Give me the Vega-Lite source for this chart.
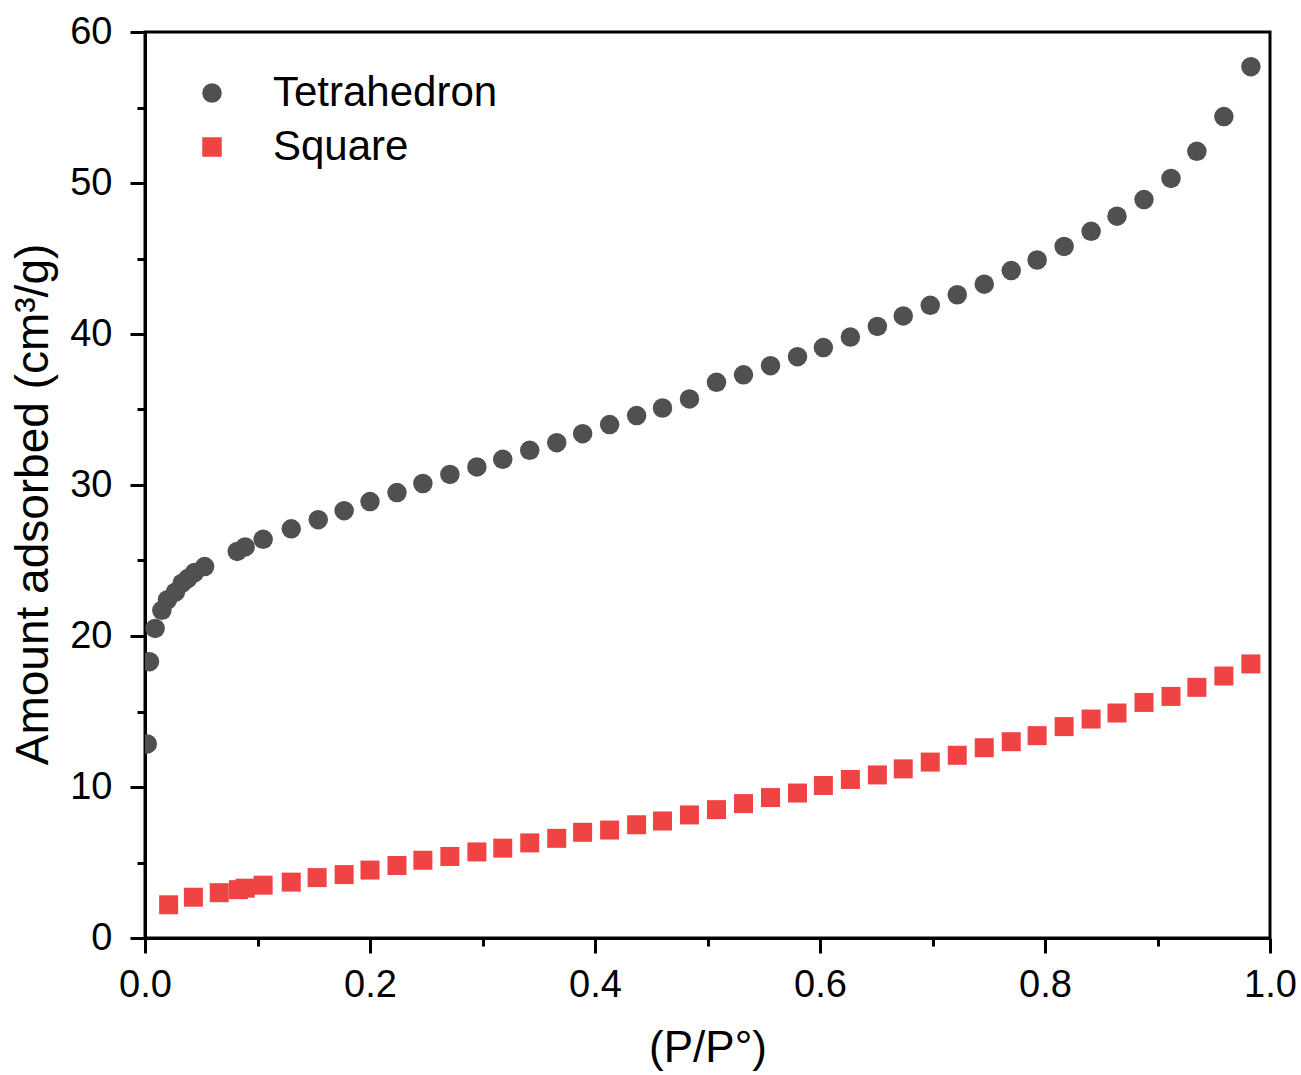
{
  "$schema": "https://vega.github.io/schema/vega-lite/v6.json",
  "autosize": {"type": "none"},
  "padding": {"left": 145, "top": 32, "right": 31, "bottom": 137},
  "width": 1125,
  "height": 906,
  "background": "white",
  "config": {
    "font": "Liberation Sans",
    "view": {"stroke": "black", "strokeWidth": 3},
    "axis": {
      "domainColor": "black",
      "domainWidth": 3,
      "tickColor": "black",
      "tickWidth": 3,
      "grid": false,
      "labelFont": "Liberation Sans",
      "labelFontSize": 38,
      "labelColor": "black",
      "titleFont": "Liberation Sans",
      "titleFontSize": 44,
      "titleFontWeight": "normal",
      "titleColor": "black"
    }
  },
  "datasets": {
    "isotherm": [
      {"pp0": 0.002, "amount": 12.85, "sample": "Tetrahedron"},
      {"pp0": 0.004, "amount": 18.3, "sample": "Tetrahedron"},
      {"pp0": 0.009, "amount": 20.5, "sample": "Tetrahedron"},
      {"pp0": 0.015, "amount": 21.7, "sample": "Tetrahedron"},
      {"pp0": 0.020, "amount": 22.4, "sample": "Tetrahedron"},
      {"pp0": 0.027, "amount": 22.9, "sample": "Tetrahedron"},
      {"pp0": 0.033, "amount": 23.5, "sample": "Tetrahedron"},
      {"pp0": 0.038, "amount": 23.8, "sample": "Tetrahedron"},
      {"pp0": 0.044, "amount": 24.2, "sample": "Tetrahedron"},
      {"pp0": 0.053, "amount": 24.6, "sample": "Tetrahedron"},
      {"pp0": 0.082, "amount": 25.6, "sample": "Tetrahedron"},
      {"pp0": 0.089, "amount": 25.9, "sample": "Tetrahedron"},
      {"pp0": 0.105, "amount": 26.4, "sample": "Tetrahedron"},
      {"pp0": 0.130, "amount": 27.1, "sample": "Tetrahedron"},
      {"pp0": 0.154, "amount": 27.7, "sample": "Tetrahedron"},
      {"pp0": 0.177, "amount": 28.3, "sample": "Tetrahedron"},
      {"pp0": 0.200, "amount": 28.9, "sample": "Tetrahedron"},
      {"pp0": 0.224, "amount": 29.5, "sample": "Tetrahedron"},
      {"pp0": 0.247, "amount": 30.1, "sample": "Tetrahedron"},
      {"pp0": 0.271, "amount": 30.7, "sample": "Tetrahedron"},
      {"pp0": 0.295, "amount": 31.2, "sample": "Tetrahedron"},
      {"pp0": 0.318, "amount": 31.7, "sample": "Tetrahedron"},
      {"pp0": 0.342, "amount": 32.3, "sample": "Tetrahedron"},
      {"pp0": 0.366, "amount": 32.8, "sample": "Tetrahedron"},
      {"pp0": 0.389, "amount": 33.4, "sample": "Tetrahedron"},
      {"pp0": 0.413, "amount": 34.0, "sample": "Tetrahedron"},
      {"pp0": 0.437, "amount": 34.6, "sample": "Tetrahedron"},
      {"pp0": 0.460, "amount": 35.1, "sample": "Tetrahedron"},
      {"pp0": 0.484, "amount": 35.7, "sample": "Tetrahedron"},
      {"pp0": 0.508, "amount": 36.8, "sample": "Tetrahedron"},
      {"pp0": 0.532, "amount": 37.3, "sample": "Tetrahedron"},
      {"pp0": 0.556, "amount": 37.9, "sample": "Tetrahedron"},
      {"pp0": 0.580, "amount": 38.5, "sample": "Tetrahedron"},
      {"pp0": 0.603, "amount": 39.1, "sample": "Tetrahedron"},
      {"pp0": 0.627, "amount": 39.8, "sample": "Tetrahedron"},
      {"pp0": 0.651, "amount": 40.5, "sample": "Tetrahedron"},
      {"pp0": 0.674, "amount": 41.2, "sample": "Tetrahedron"},
      {"pp0": 0.698, "amount": 41.9, "sample": "Tetrahedron"},
      {"pp0": 0.722, "amount": 42.6, "sample": "Tetrahedron"},
      {"pp0": 0.746, "amount": 43.3, "sample": "Tetrahedron"},
      {"pp0": 0.770, "amount": 44.2, "sample": "Tetrahedron"},
      {"pp0": 0.793, "amount": 44.9, "sample": "Tetrahedron"},
      {"pp0": 0.817, "amount": 45.8, "sample": "Tetrahedron"},
      {"pp0": 0.841, "amount": 46.8, "sample": "Tetrahedron"},
      {"pp0": 0.864, "amount": 47.8, "sample": "Tetrahedron"},
      {"pp0": 0.888, "amount": 48.9, "sample": "Tetrahedron"},
      {"pp0": 0.912, "amount": 50.3, "sample": "Tetrahedron"},
      {"pp0": 0.935, "amount": 52.1, "sample": "Tetrahedron"},
      {"pp0": 0.959, "amount": 54.4, "sample": "Tetrahedron"},
      {"pp0": 0.983, "amount": 57.7, "sample": "Tetrahedron"},
      {"pp0": 0.021, "amount": 2.2, "sample": "Square"},
      {"pp0": 0.043, "amount": 2.7, "sample": "Square"},
      {"pp0": 0.066, "amount": 3.0, "sample": "Square"},
      {"pp0": 0.083, "amount": 3.2, "sample": "Square"},
      {"pp0": 0.089, "amount": 3.3, "sample": "Square"},
      {"pp0": 0.105, "amount": 3.5, "sample": "Square"},
      {"pp0": 0.130, "amount": 3.7, "sample": "Square"},
      {"pp0": 0.153, "amount": 4.0, "sample": "Square"},
      {"pp0": 0.177, "amount": 4.2, "sample": "Square"},
      {"pp0": 0.200, "amount": 4.5, "sample": "Square"},
      {"pp0": 0.224, "amount": 4.8, "sample": "Square"},
      {"pp0": 0.247, "amount": 5.15, "sample": "Square"},
      {"pp0": 0.271, "amount": 5.4, "sample": "Square"},
      {"pp0": 0.295, "amount": 5.7, "sample": "Square"},
      {"pp0": 0.318, "amount": 5.95, "sample": "Square"},
      {"pp0": 0.342, "amount": 6.3, "sample": "Square"},
      {"pp0": 0.366, "amount": 6.6, "sample": "Square"},
      {"pp0": 0.389, "amount": 7.0, "sample": "Square"},
      {"pp0": 0.413, "amount": 7.15, "sample": "Square"},
      {"pp0": 0.437, "amount": 7.5, "sample": "Square"},
      {"pp0": 0.460, "amount": 7.75, "sample": "Square"},
      {"pp0": 0.484, "amount": 8.15, "sample": "Square"},
      {"pp0": 0.508, "amount": 8.5, "sample": "Square"},
      {"pp0": 0.532, "amount": 8.9, "sample": "Square"},
      {"pp0": 0.556, "amount": 9.3, "sample": "Square"},
      {"pp0": 0.580, "amount": 9.6, "sample": "Square"},
      {"pp0": 0.603, "amount": 10.1, "sample": "Square"},
      {"pp0": 0.627, "amount": 10.5, "sample": "Square"},
      {"pp0": 0.651, "amount": 10.8, "sample": "Square"},
      {"pp0": 0.674, "amount": 11.2, "sample": "Square"},
      {"pp0": 0.698, "amount": 11.65, "sample": "Square"},
      {"pp0": 0.722, "amount": 12.1, "sample": "Square"},
      {"pp0": 0.746, "amount": 12.6, "sample": "Square"},
      {"pp0": 0.770, "amount": 13.0, "sample": "Square"},
      {"pp0": 0.793, "amount": 13.4, "sample": "Square"},
      {"pp0": 0.817, "amount": 14.0, "sample": "Square"},
      {"pp0": 0.841, "amount": 14.5, "sample": "Square"},
      {"pp0": 0.864, "amount": 14.9, "sample": "Square"},
      {"pp0": 0.888, "amount": 15.6, "sample": "Square"},
      {"pp0": 0.912, "amount": 16.0, "sample": "Square"},
      {"pp0": 0.935, "amount": 16.6, "sample": "Square"},
      {"pp0": 0.959, "amount": 17.35, "sample": "Square"},
      {"pp0": 0.983, "amount": 18.15, "sample": "Square"}
    ]
  },
  "data": {"name": "isotherm"},
  "resolve": {"axis": {"x": "independent", "y": "independent"}},
  "layer": [
    {
      "transform": [{"filter": "datum.sample === 'Tetrahedron'"}],
      "mark": {"type": "point", "filled": true, "opacity": 1, "size": 380, "clip": true},
      "encoding": {
        "x": {
          "field": "pp0", "type": "quantitative",
          "scale": {"domain": [0, 1], "nice": false, "zero": false},
          "axis": {
            "orient": "bottom", "title": "(P/P°)", "values": [0, 0.2, 0.4, 0.6, 0.8, 1.0],
            "format": ".1f", "tickSize": 15, "labelPadding": 13, "titlePadding": 22,
            "labelFlush": false
          }
        },
        "y": {
          "field": "amount", "type": "quantitative",
          "scale": {"domain": [0, 60], "nice": false},
          "axis": {
            "orient": "left", "title": "Amount adsorbed (cm³/g)", "values": [0, 10, 20, 30, 40, 50, 60],
            "tickSize": 15, "labelPadding": 18, "titlePadding": 12,
            "titleFontSize": 46, "titleY": 472, "titleAlign": "center"
          }
        },
        "color": {
          "field": "sample", "type": "nominal",
          "scale": {"domain": ["Tetrahedron", "Square"], "range": ["#505050", "#f04343"]},
          "legend": {
            "orient": "none", "legendX": 46, "legendY": 40, "title": null,
            "labelFont": "Liberation Sans", "labelFontSize": 42, "labelColor": "black", "labelLimit": 0,
            "symbolSize": 380, "symbolStrokeWidth": 0, "labelOffset": 40, "rowPadding": 12
          }
        },
        "shape": {
          "field": "sample", "type": "nominal",
          "scale": {"domain": ["Tetrahedron", "Square"], "range": ["circle", "square"]},
          "legend": {
            "orient": "none", "legendX": 46, "legendY": 40, "title": null,
            "labelFont": "Liberation Sans", "labelFontSize": 42, "labelColor": "black", "labelLimit": 0,
            "symbolSize": 380, "symbolStrokeWidth": 0, "labelOffset": 40, "rowPadding": 12
          }
        }
      }
    },
    {
      "transform": [{"filter": "datum.sample === 'Square'"}],
      "mark": {"type": "point", "filled": true, "opacity": 1, "size": 361, "clip": true},
      "encoding": {
        "x": {
          "field": "pp0", "type": "quantitative",
          "axis": {
            "orient": "bottom", "title": null, "values": [0.1, 0.3, 0.5, 0.7, 0.9],
            "labels": false, "domain": false, "tickSize": 8
          }
        },
        "y": {
          "field": "amount", "type": "quantitative",
          "axis": {
            "orient": "left", "title": null, "values": [5, 15, 25, 35, 45, 55],
            "labels": false, "domain": false, "tickSize": 8
          }
        },
        "color": {"field": "sample", "type": "nominal"},
        "shape": {"field": "sample", "type": "nominal"}
      }
    }
  ]
}
